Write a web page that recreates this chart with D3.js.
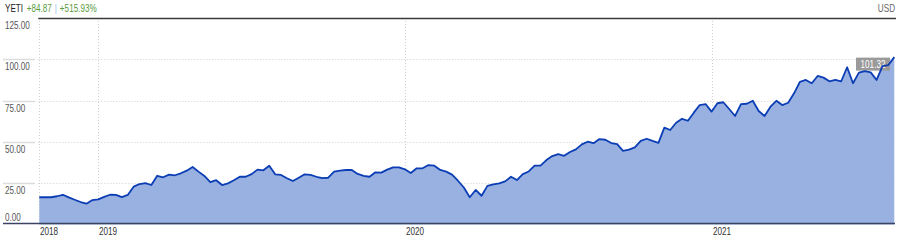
<!DOCTYPE html>
<html>
<head>
<meta charset="utf-8">
<script src="https://cdn.jsdelivr.net/npm/d3@7"></script>
<style>
  html, body { margin: 0; padding: 0; background: #fff; }
  svg { display: block; }
  text { font-family: "Liberation Sans", Arial, sans-serif; }
</style>
</head>
<body>
<svg id="chart" width="900" height="240"></svg>
<script>
// ---- Data (weekly closes, YETI) ----
const ticker = "YETI";
const changeAbs = "+84.87";
const changePct = "+515.93%";
const currency = "USD";
const startDate = "2018-10-26";
const prices = [
  16.5, 16.5, 16.5, 17.1, 18.0, 16.4, 15.0, 13.6, 12.6, 14.8,
  15.2, 16.7, 18.0, 17.9, 16.6, 17.9, 22.9, 24.5, 25.1, 23.9,
  29.5, 28.6, 30.2, 29.8, 31.0, 32.6, 34.8, 32.0, 29.4, 25.7,
  26.8, 23.9, 24.9, 26.8, 28.9, 28.9, 30.5, 33.2, 32.8, 35.6,
  30.4, 30.0, 28.0, 26.3, 28.3, 30.4, 30.0, 28.9, 28.1, 28.3,
  32.0, 32.6, 33.0, 33.0, 30.6, 29.5, 28.9, 31.6, 31.4, 33.2,
  34.6, 34.6, 33.4, 31.2, 34.0, 34.0, 36.0, 35.6, 33.0, 32.0,
  30.2, 26.5, 22.4, 16.5, 20.9, 17.4, 23.4, 24.3, 24.9, 26.1,
  28.9, 26.9, 30.5, 32.1, 35.6, 35.6, 39.0, 41.4, 42.6, 41.6,
  43.9, 45.5, 48.5, 50.1, 49.2, 51.7, 51.3, 49.3, 48.6, 44.6,
  45.3, 46.7, 50.6, 51.9, 50.6, 49.4, 58.6, 57.2, 61.6, 64.0,
  62.8, 67.7, 72.3, 72.9, 68.3, 73.4, 74.0, 69.9, 65.7, 72.9,
  73.1, 74.9, 68.7, 65.7, 71.3, 74.9, 72.3, 73.7, 79.4, 86.4,
  87.5, 85.5, 89.9, 88.9, 86.7, 87.5, 86.7, 95.2, 85.5, 91.9,
  92.9, 92.1, 87.5, 95.9, 96.5, 101.32
];
const yTicks = [0, 25, 50, 75, 100, 125];
const lastLabel = "101.32";

(function () {
const SX = 0.74; // narrow font emulation
const t0 = d3.timeParse("%Y-%m-%d")(startDate);
const dates = prices.map((_, i) => d3.timeWeek.offset(t0, i));
const data = dates.map((d, i) => ({ date: d, value: prices[i] }));

const svg = d3.select("#chart");
const pLeft = 39.3, pRight = 894.3, pTop = 18, pBottom = 223.5;

const x = d3.scaleTime().domain([dates[0], dates[dates.length - 1]]).range([pLeft, pRight]);
const y = d3.scaleLinear().domain([0, 125]).range([224.5, 18]);

const yearTicks = dates.filter((d, i) => i === 0 || d.getFullYear() !== dates[i - 1].getFullYear());

function ntext(sel, tx, ty) {
  return sel.attr("transform", `translate(${tx},${ty}) scale(${SX},1)`);
}

// horizontal gridlines + left short lines
const gridY = yTicks.filter(v => v > 0 && v < 125);
svg.append("g").selectAll("line").data(gridY).join("line")
  .attr("x1", pLeft - 1).attr("x2", 895)
  .attr("y1", d => Math.round(y(d)) + 0.5).attr("y2", d => Math.round(y(d)) + 0.5)
  .attr("stroke", "#cfcfcf").attr("stroke-dasharray", "1,2");
svg.append("g").selectAll("line").data(gridY).join("line")
  .attr("x1", 3).attr("x2", 35)
  .attr("y1", d => Math.round(y(d)) + 0.5).attr("y2", d => Math.round(y(d)) + 0.5)
  .attr("stroke", "#dcdcdc").attr("stroke-width", 1.5);

// vertical gridlines
svg.append("g").selectAll("line").data(yearTicks).join("line")
  .attr("x1", d => Math.round(x(d)) + 0.5).attr("x2", d => Math.round(x(d)) + 0.5)
  .attr("y1", pTop).attr("y2", pBottom)
  .attr("stroke", "#d0d0d0").attr("stroke-dasharray", "1,2");

// area + line
const area = d3.area().x(d => x(d.date)).y0(y(0)).y1(d => y(d.value));
const line = d3.line().x(d => x(d.date)).y(d => y(d.value));
svg.append("path").datum(data).attr("d", area).attr("fill", "#99b1e1");

// last price label box
const last = data[data.length - 1];
const lb = svg.append("g");
lb.append("rect").attr("x", 856).attr("y", y(last.value) + 0.5).attr("width", 34).attr("height", 13)
  .attr("fill", "#9a9a9a");
ntext(lb.append("text"), 873, y(last.value) + 10.5).attr("text-anchor", "middle")
  .attr("fill", "#fff").attr("font-size", 11).text(lastLabel);

svg.append("path").datum(data).attr("d", line).attr("fill", "none")
  .attr("stroke", "#0b3db5").attr("stroke-width", 1.8).attr("stroke-linejoin", "round");

// top and bottom lines
svg.append("line").attr("x1", pLeft - 1).attr("x2", 896).attr("y1", 18.5).attr("y2", 18.5)
  .attr("stroke", "#3a3a3a").attr("stroke-width", 1.5);
svg.append("line").attr("x1", 3).attr("x2", 895).attr("y1", 223.5).attr("y2", 223.5)
  .attr("stroke", "#3b4463").attr("stroke-width", 1.5);

// y labels
svg.append("g").selectAll("text").data(yTicks).join("text")
  .each(function (d) { ntext(d3.select(this), 5, d === 0 ? 221 : y(d) + 11); })
  .attr("font-size", 11).attr("fill", "#555")
  .text(d => d3.format(".2f")(d));

// x labels
svg.append("g").selectAll("text").data(yearTicks).join("text")
  .each(function (d) { ntext(d3.select(this), Math.round(x(d)) + 1, 235); })
  .attr("font-size", 11).attr("fill", "#333")
  .text(d => d3.timeFormat("%Y")(d));

// header
const h = ntext(svg.append("text"), 5, 12).attr("font-size", 11);
h.append("tspan").attr("fill", "#222").text(ticker);
h.append("tspan").attr("dx", 5).attr("fill", "#5a9a3c").text(changeAbs);
h.append("tspan").attr("dx", 4).attr("fill", "#8ec1e8").text("|");
h.append("tspan").attr("dx", 4).attr("fill", "#5a9a3c").text(changePct);
ntext(svg.append("text"), 895, 12).attr("text-anchor", "end")
  .attr("font-size", 11).attr("fill", "#666").text(currency);
})();
</script>
</body>
</html>
